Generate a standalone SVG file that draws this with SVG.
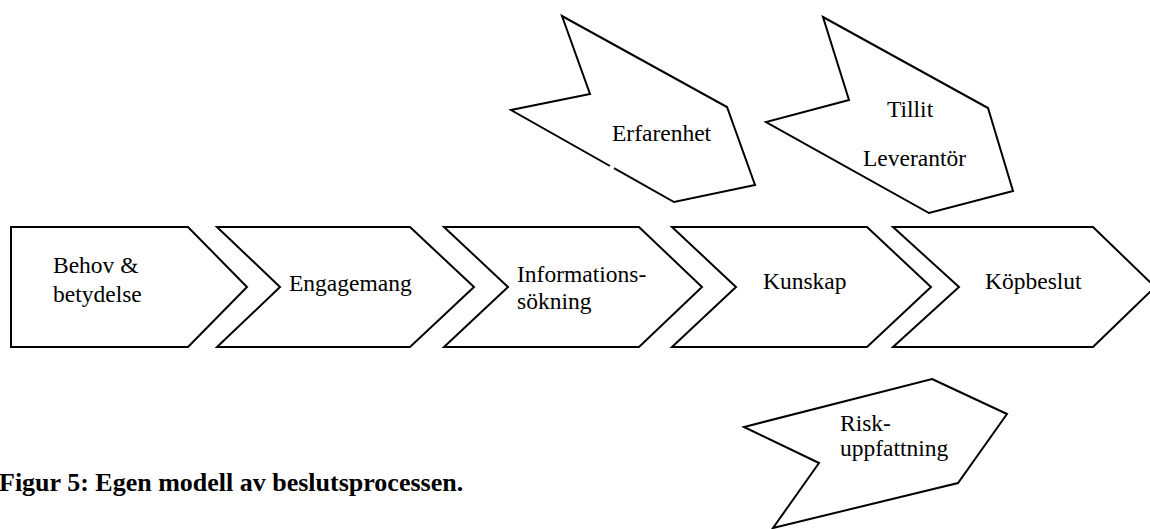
<svg xmlns="http://www.w3.org/2000/svg" width="1150" height="529" viewBox="0 0 1150 529">
  <style>
    .shape { fill: #ffffff; stroke: #000000; stroke-width: 2; stroke-linejoin: miter; }
    .label { font-family: "Liberation Serif", "Times New Roman", serif; font-size: 23.5px; fill: #000000; }
    .caption { font-family: "Liberation Serif", "Times New Roman", serif; font-size: 26px; font-weight: bold; fill: #000000; }
  </style>
  <rect width="1150" height="529" fill="#ffffff"/>

  <!-- Process chain: chevron steps -->
  <g id="step-behov">
    <polygon class="shape" points="11,227 188,227 247,287 188,347 11,347"/>
    <text class="label" x="53" y="273">Behov &amp;</text>
    <text class="label" x="53" y="302">betydelse</text>
  </g>
  <g id="step-engagemang">
    <polygon class="shape" points="217,227 410,227 474,287 410,347 217,347 280,287"/>
    <text class="label" x="289" y="291">Engagemang</text>
  </g>
  <g id="step-informationssokning">
    <polygon class="shape" points="444,227 639,227 702,287 639,347 444,347 508,287"/>
    <text class="label" x="517" y="282">Informations-</text>
    <text class="label" x="517" y="309">sökning</text>
  </g>
  <g id="step-kunskap">
    <polygon class="shape" points="672,227 867,227 931,287 867,347 672,347 736,287"/>
    <text class="label" x="763" y="289">Kunskap</text>
  </g>
  <g id="step-kopbeslut">
    <polygon class="shape" points="893,227 1093,227 1155,287 1093,347 893,347 959,287"/>
    <text class="label" x="985" y="289">Köpbeslut</text>
  </g>

  <!-- Influencing factors: tilted arrow shapes -->
  <g id="factor-erfarenhet">
    <path class="shape" d="M 610,166 L 511,110 L 590,94 L 562,16 L 727,107 L 755,185 L 674,202 L 614,168.2"/>
    <text class="label" x="612" y="141">Erfarenhet</text>
  </g>
  <g id="factor-tillit">
    <polygon class="shape" points="823,17 988,108 1013,191 929,213 766,122 849,100"/>
    <text class="label" x="887" y="117">Tillit</text>
    <text class="label" x="863" y="166">Leverantör</text>
  </g>
  <g id="factor-riskuppfattning">
    <polygon class="shape" points="932,379 1007,414 958,483 773,528 819,463 744,427"/>
    <text class="label" x="840" y="431">Risk-</text>
    <text class="label" x="840" y="456">uppfattning</text>
  </g>

  <text class="caption" x="-1" y="491">Figur 5: Egen modell av beslutsprocessen.</text>
</svg>
